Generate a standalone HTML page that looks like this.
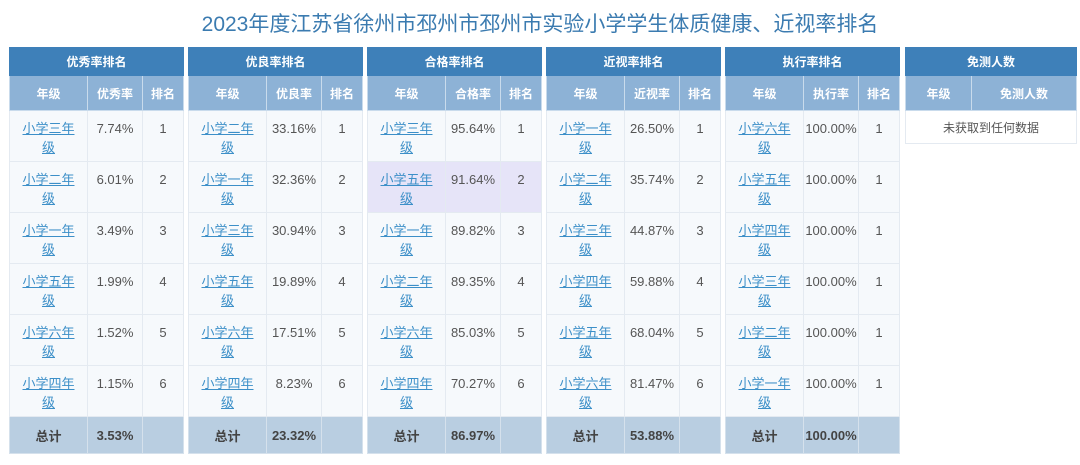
<!DOCTYPE html>
<html><head><meta charset="utf-8">
<style>
body{margin:0;width:1080px;height:465px;background:#fff;font-family:"Liberation Sans","Noto Sans CJK SC",sans-serif;overflow:hidden;position:relative}
#title{position:absolute;left:0;top:8px;width:1080px;text-align:center;font-size:21px;color:#3b7bb0;}
.panel{position:absolute;top:47px;border-collapse:collapse;table-layout:fixed;font-size:13px;color:#555}
.panel td{border:1px solid #e4eaf1;text-align:center;padding:0}
.h1 td{background:#3e80b9;color:#fff;font-weight:bold;height:27px;border-color:#3e80b9;font-size:12px}
.h2 td{background:#8db2d6;color:#fff;font-weight:bold;height:34px;border-color:#c9dbec;font-size:12px}
.row td{background:#f6f9fc;height:51px;vertical-align:top;padding-top:8px;line-height:19px;box-sizing:border-box}
.row td.g{padding-left:12px;padding-right:12px;word-break:break-all}
.row td a{color:#3c8fc8;text-decoration:underline}
.tot td{background:#b9cee1;font-weight:bold;color:#444;height:36px;border-color:#d5e1ec}
.hl td{background:#e6e4f8!important}
</style></head><body>
<div id="title">2023年度江苏省徐州市邳州市邳州市实验小学学生体质健康、近视率排名</div>
<div id="wrap"></div>
<script>
const panelTitles=["优秀率排名","优良率排名","合格率排名","近视率排名","执行率排名"];
const metricNames=["优秀率","优良率","合格率","近视率","执行率"];
const grades=[
["小学三年级","小学二年级","小学一年级","小学五年级","小学六年级","小学四年级"],
["小学二年级","小学一年级","小学三年级","小学五年级","小学六年级","小学四年级"],
["小学三年级","小学五年级","小学一年级","小学二年级","小学六年级","小学四年级"],
["小学一年级","小学二年级","小学三年级","小学四年级","小学五年级","小学六年级"],
["小学六年级","小学五年级","小学四年级","小学三年级","小学二年级","小学一年级"]];
const values=[
["7.74%","6.01%","3.49%","1.99%","1.52%","1.15%"],
["33.16%","32.36%","30.94%","19.89%","17.51%","8.23%"],
["95.64%","91.64%","89.82%","89.35%","85.03%","70.27%"],
["26.50%","35.74%","44.87%","59.88%","68.04%","81.47%"],
["100.00%","100.00%","100.00%","100.00%","100.00%","100.00%"]];
const ranks=[[1,2,3,4,5,6],[1,2,3,4,5,6],[1,2,3,4,5,6],[1,2,3,4,5,6],[1,1,1,1,1,1]];
const totals=["3.53%","23.32%","86.97%","53.88%","100.00%"];
const wrap=document.getElementById('wrap');
const lefts=[9,188,367,546,725];
panelTitles.forEach((t,p)=>{
 const tb=document.createElement('table');
 tb.className='panel';tb.style.left=lefts[p]+'px';tb.style.width='174px';
 
 
 let h='<colgroup><col style="width:78px"><col style="width:55px"><col style="width:41px"></colgroup>';
 h+='<tr class="h1"><td colspan="3">'+t+'</td></tr>';
 h+='<tr class="h2"><td>年级</td><td>'+metricNames[p]+'</td><td>排名</td></tr>';
 grades[p].forEach((g,i)=>{
  const hl=(p===2&&i===1)?' hl':'';
  h+='<tr class="row'+hl+'"><td class="g"><a href="#">'+g+'</a></td><td>'+values[p][i]+'</td><td>'+ranks[p][i]+'</td></tr>';
 });
 h+='<tr class="tot"><td>总计</td><td>'+totals[p]+'</td><td></td></tr>';
 tb.innerHTML=h;wrap.appendChild(tb);
});
const t6=document.createElement('table');
t6.className='panel';t6.style.left='905px';t6.style.width='171px';


t6.innerHTML='<colgroup><col style="width:66px"><col style="width:105px"></colgroup><tr class="h1"><td colspan="2">免测人数</td></tr><tr class="h2"><td>年级</td><td>免测人数</td></tr><tr><td colspan="2" style="height:32px;background:#fff;color:#555;font-size:12px">未获取到任何数据</td></tr>';
wrap.appendChild(t6);
</script>
</body></html>
